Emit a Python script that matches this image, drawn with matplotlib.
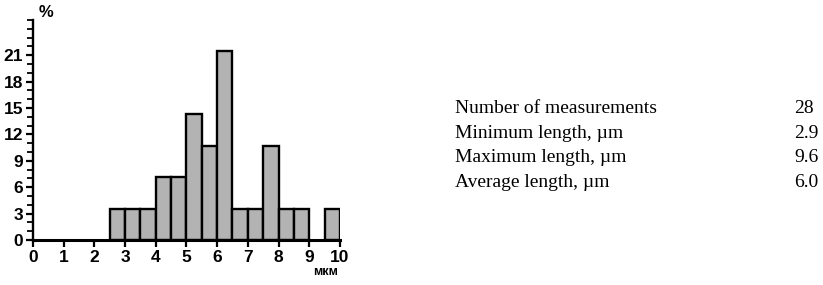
import numpy as np
import matplotlib
matplotlib.use('Agg')
import matplotlib.pyplot as plt

# histogram bins (um) and counts out of 28 measurements
bin_edges = [2.5, 3.0, 3.5, 4.0, 4.5, 5.0, 5.5, 6.0, 6.5, 7.0, 7.5, 8.0, 8.5, 9.0, 9.5, 10.0]
counts = [1, 1, 1, 2, 2, 4, 3, 6, 1, 1, 3, 1, 1, 0, 1]
n_total = 28

stat_labels = ['Number of measurements', 'Minimum length, \u00b5m',
               'Maximum length, \u00b5m', 'Average length, \u00b5m']
stat_values = ['28', '2.9', '9.6', '6.0']

percent = [c / n_total * 100 for c in counts]
lefts = bin_edges[:-1]
widths = np.diff(bin_edges)

plt.rcParams['font.family'] = ['Liberation Sans', 'DejaVu Sans']

fig = plt.figure(figsize=(8.23, 2.85), dpi=100)
ax = fig.add_axes([0.040, 0.158, 0.373, 0.772])

for x, w, p in zip(lefts, widths, percent):
    if p > 0:
        ax.bar(x, p, width=w, align='edge', color='#b3b3b3',
               edgecolor='black', linewidth=1.7, zorder=2)

ax.set_xlim(0, 10)
ax.set_ylim(0, 25)
ax.set_xticks(range(0, 11))
ax.set_yticks(range(0, 22, 3))
ax.set_yticks(range(0, 26), minor=True)
ax.spines['top'].set_visible(False)
ax.spines['right'].set_visible(False)
ax.spines['left'].set_linewidth(1.7)
ax.spines['bottom'].set_linewidth(2.2)
ax.spines['left'].set_bounds(0, 25)
ax.tick_params(axis='both', which='major', direction='out', length=5, width=1.6,
               labelsize=12.5, pad=2)
ax.tick_params(axis='y', which='minor', direction='out', length=4, width=1.3)
for lab in ax.get_xticklabels() + ax.get_yticklabels():
    lab.set_fontweight('bold')

fig.text(0.047, 0.955, '%', fontsize=12, fontweight='bold', ha='left', va='center')
fig.text(0.396, 0.045, 'мкм', fontsize=9, fontweight='bold', ha='center', va='center')

ys = [0.621, 0.533, 0.446, 0.358]
for lab, val, y in zip(stat_labels, stat_values, ys):
    fig.text(0.553, y, lab, fontsize=14, family='Liberation Serif', ha='left', va='center')
    fig.text(0.965, y, val, fontsize=14, family='Liberation Serif', ha='left', va='center')

fig.savefig('out.png', dpi=100)
